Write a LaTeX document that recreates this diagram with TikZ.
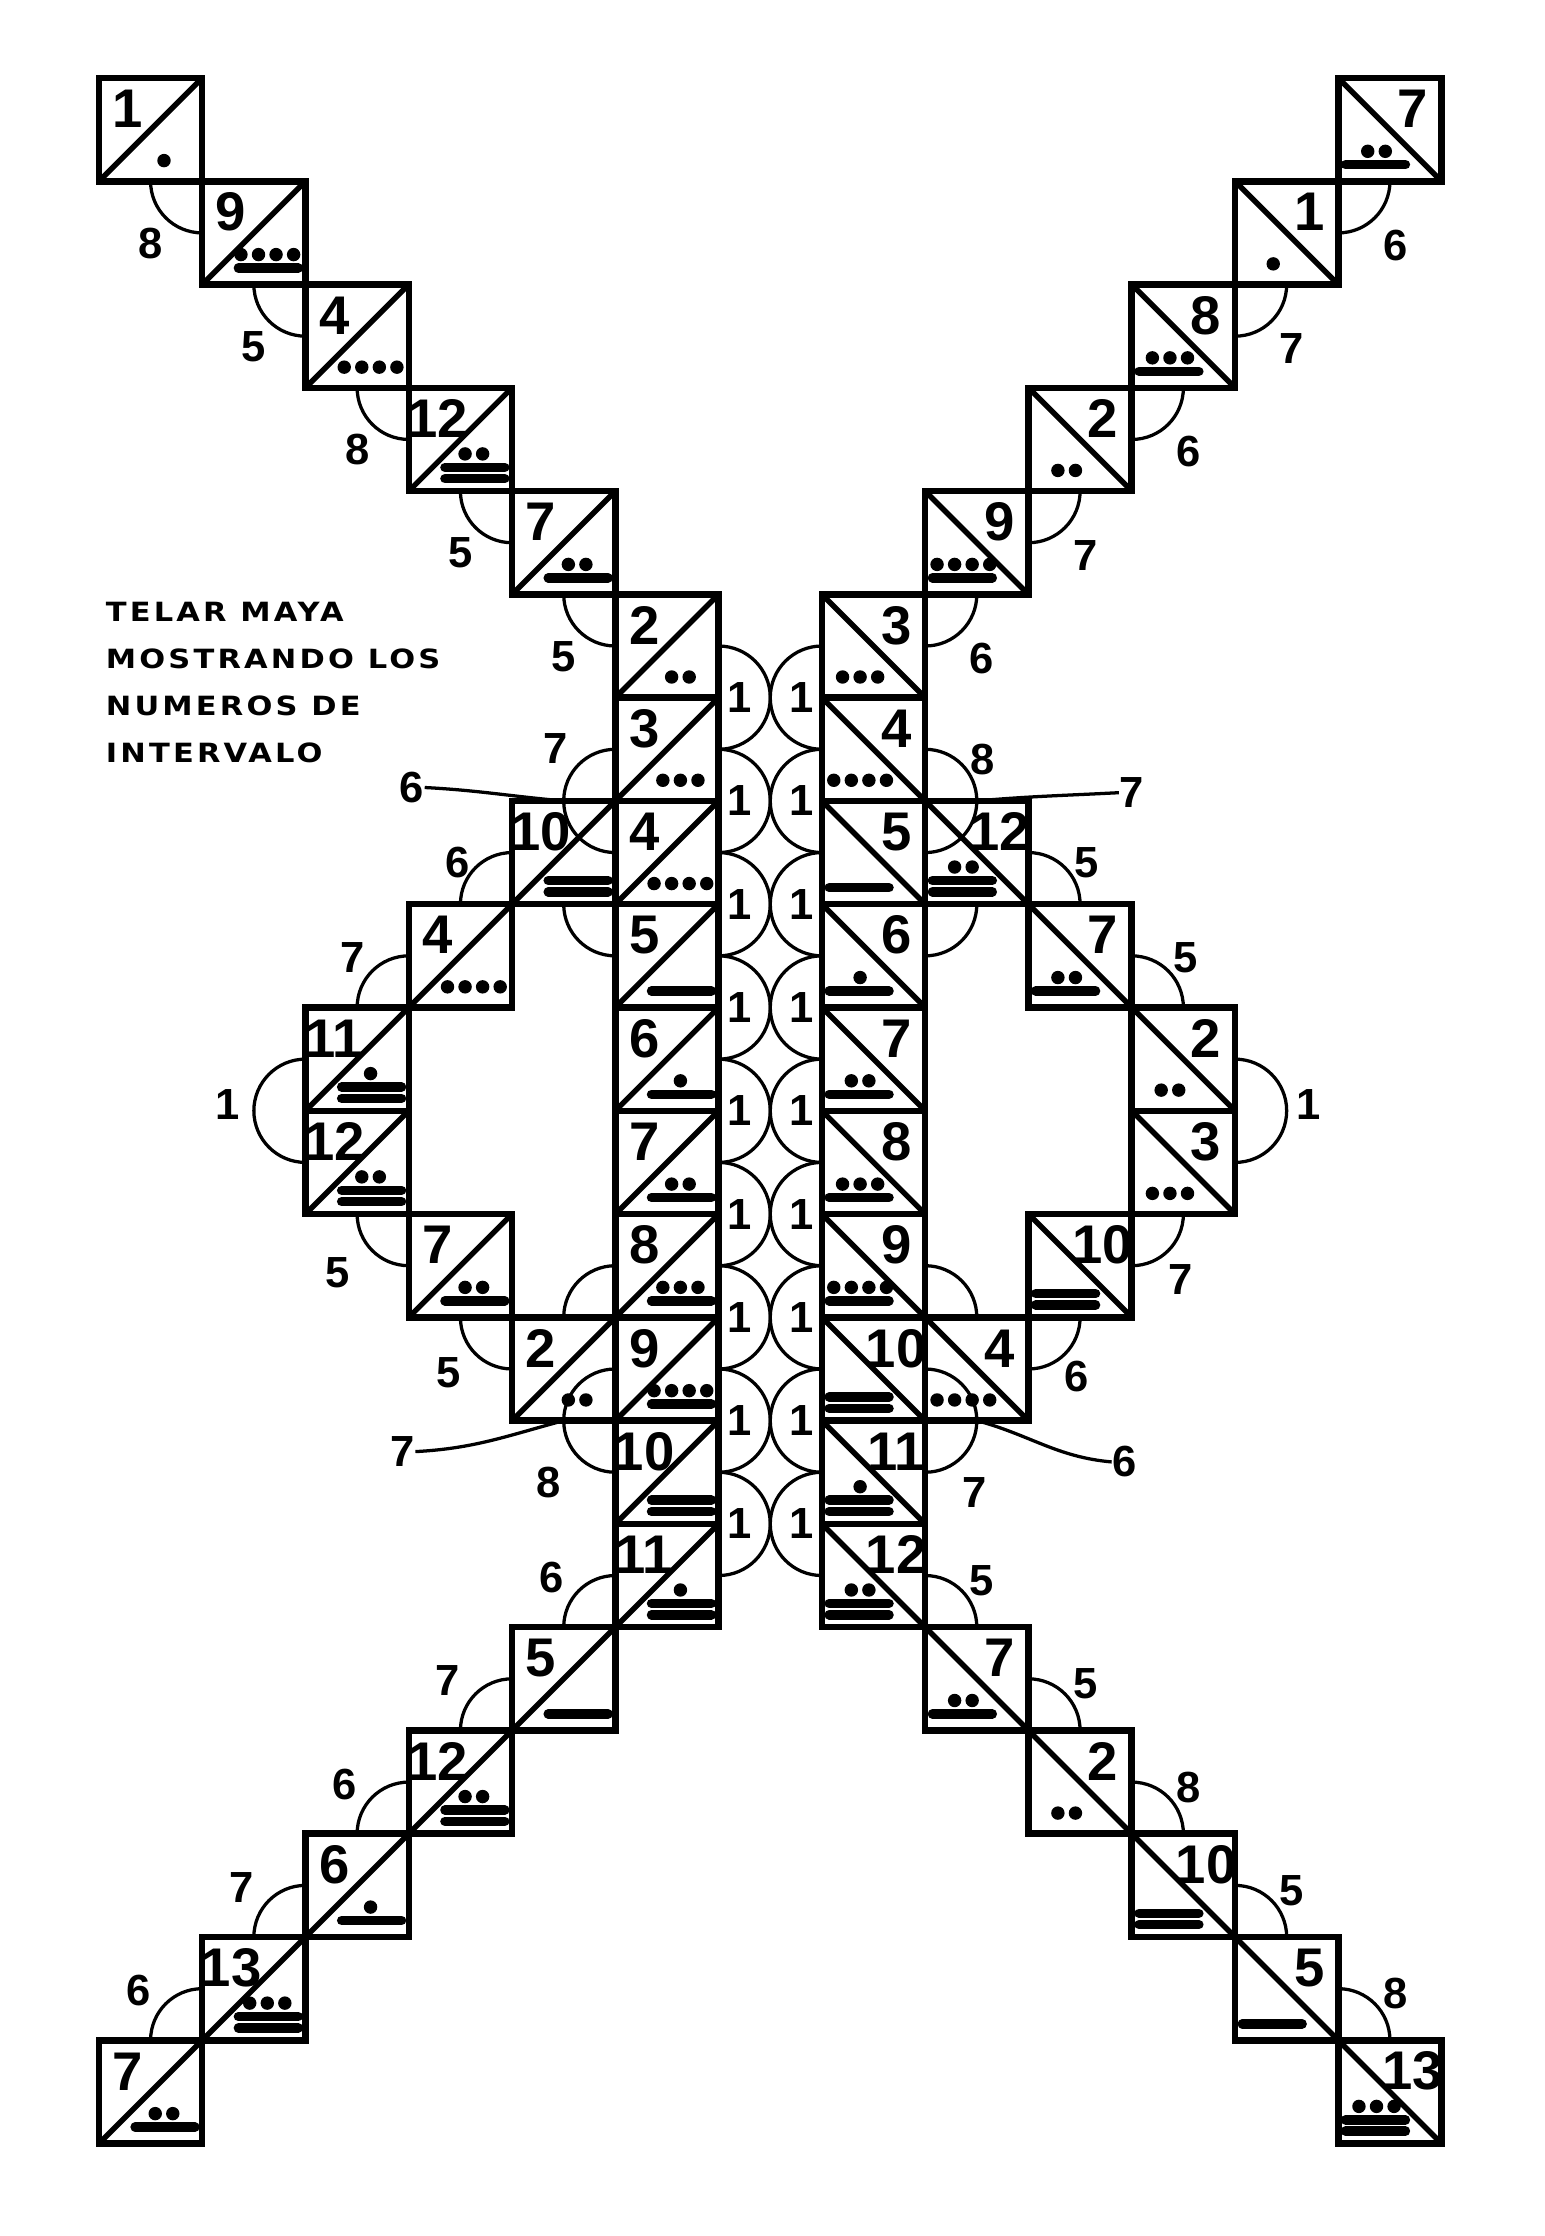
\documentclass[tikz,border=0pt]{standalone}
\usepackage{fontspec}
\setmainfont{Liberation Sans}
\newfontfamily\titlefont[LetterSpace=12,FakeStretch=1.15]{DejaVu Sans}
\usetikzlibrary{calc}
\tikzset{
  cell/.style={draw, line width=1.8pt, minimum size=1cm, inner sep=0pt, outer sep=0pt},
  diag/.style={line width=1.5pt},
  bar/.style={line width=2.6pt, line cap=round},
  dot/.style={fill=black},
  num/.style={font=\bfseries\fontsize{15}{15}\selectfont, inner sep=0pt},
  ivarc/.style={line width=0.9pt},
  ivl/.style={font=\bfseries\fontsize{12}{12}\selectfont, inner sep=0pt},
  leader/.style={line width=0.9pt},
  title/.style={font=\titlefont\bfseries\fontsize{7.3}{12.95}\selectfont,
                align=left, anchor=north west, inner sep=0pt}
}

\begin{document}
\begin{tikzpicture}
\useasboundingbox (-0.958,0.755) rectangle (13.992,-20.895);
% squares: name/column/row/value/direction
\foreach \nm/\qx/\qy/\val/\sg in {
  nw1/0/0/1/1, nw2/1/1/9/1, nw3/2/2/4/1, nw4/3/3/12/1, nw5/4/4/7/1,
  lc1/5/5/2/1, lc2/5/6/3/1, lc3/5/7/4/1, lc4/5/8/5/1, lc5/5/9/6/1,
  lc6/5/10/7/1, lc7/5/11/8/1, lc8/5/12/9/1, lc9/5/13/10/1, lc10/5/14/11/1,
  lb1/4/7/10/1, lb2/3/8/4/1, lb3/2/9/11/1, lb4/2/10/12/1, lb5/3/11/7/1, lb6/4/12/2/1,
  sw1/4/15/5/1, sw2/3/16/12/1, sw3/2/17/6/1, sw4/1/18/13/1, sw5/0/19/7/1,
  ne1/12/0/7/-1, ne2/11/1/1/-1, ne3/10/2/8/-1, ne4/9/3/2/-1, ne5/8/4/9/-1,
  rc1/7/5/3/-1, rc2/7/6/4/-1, rc3/7/7/5/-1, rc4/7/8/6/-1, rc5/7/9/7/-1,
  rc6/7/10/8/-1, rc7/7/11/9/-1, rc8/7/12/10/-1, rc9/7/13/11/-1, rc10/7/14/12/-1,
  rb1/8/7/12/-1, rb2/9/8/7/-1, rb3/10/9/2/-1, rb4/10/10/3/-1, rb5/9/11/10/-1, rb6/8/12/4/-1,
  se1/8/15/7/-1, se2/9/16/2/-1, se3/10/17/10/-1, se4/11/18/5/-1, se5/12/19/13/-1}{
  \node[cell] (\nm) at (\qx+0.5,-\qy-0.5) {};
  \draw[diag] ($(\nm.center)+(-0.5*\sg,-0.5)$) -- ($(\nm.center)+(0.5*\sg,0.5)$);
  \node[num] (\nm-n) at ($(\nm.center)+(-0.22*\sg,0.2)$) {\val};
  \pgfmathtruncatemacro\nb{\val/5}
  \pgfmathtruncatemacro\nd{\val-5*\nb}
  \ifnum\nb>0
    \foreach \kk in {1,...,\nb}{
      \pgfmathsetmacro\by{0.5-0.84-0.04*(\nb-1)+0.11*(\kk-1)}
      \draw[bar] ($(\nm.center)+(-0.15*\sg,\by)$) -- ++(0.58*\sg,0);
    }
    \pgfmathsetmacro\dy{0.5-0.84+0.07*(\nb-1)+0.13}
  \else
    \pgfmathsetmacro\dy{-0.3}
  \fi
  \ifnum\nd>0
    \foreach \jj in {1,...,\nd}{
      \pgfmathsetmacro\dx{(0.13+0.17*(\jj-(\nd+1)/2))*\sg}
      \fill[dot] ($(\nm.center)+(\dx,\dy)$) circle[radius=0.065];
    }
  \fi
}
% arms
\foreach \a/\t in {nw1/8,nw2/5,nw3/8,nw4/5,nw5/5}{
  \draw[ivarc] (\a.south) arc[start angle=180,end angle=270,radius=.5];
  \node[ivl] (\a-i) at ($(\a.south)+(0,-0.6)$) {\t};
}
\foreach \a/\t in {ne1/6,ne2/7,ne3/6,ne4/7,ne5/6}{
  \draw[ivarc] (\a.south) arc[start angle=0,end angle=-90,radius=.5];
  \node[ivl] (\a-i) at ($(\a.south)+(0.05,-0.62)$) {\t};
}
\foreach \a/\t in {sw1/6,sw2/7,sw3/6,sw4/7,sw5/6}{
  \draw[ivarc] (\a.north) arc[start angle=180,end angle=90,radius=.5];
  \node[ivl] (\a-i) at ($(\a.north)+(-0.12,0.48)$) {\t};
}
\foreach \a/\t in {se1/5,se2/5,se3/8,se4/5,se5/8}{
  \draw[ivarc] (\a.north) arc[start angle=0,end angle=90,radius=.5];
  \node[ivl] (\a-i) at ($(\a.north)+(0.05,0.45)$) {\t};
}
% the two columns
\foreach \kk in {1,...,9}{
  \draw[ivarc] (lc\kk.east) arc[start angle=90,end angle=-90,radius=.5];
  \node[ivl] (lc\kk-i) at ($(lc\kk.east)+(0.2,-0.5)$) {1};
  \draw[ivarc] (rc\kk.west) arc[start angle=90,end angle=270,radius=.5];
  \node[ivl] (rc\kk-i) at ($(rc\kk.west)+(-0.2,-0.5)$) {1};
}
% left loop
\draw[ivarc] (lb1.north) arc[start angle=180,end angle=90,radius=.5];
\node[ivl] (lb1-i) at ($(lb1.north)+(-0.08,0.51)$) {7};
\draw[ivarc] (lb1.north) arc[start angle=180,end angle=270,radius=.5];
\node[ivl] (lb1-j) at (3.03,-6.87) {6};
\draw[leader] (lb1-j.east) to[out=-3,in=175] (lb1.north);
\draw[ivarc] (lb1.south) arc[start angle=180,end angle=270,radius=.5];
\draw[ivarc] (lb2.north) arc[start angle=180,end angle=90,radius=.5];
\node[ivl] (lb2-i) at ($(lb2.north)+(-0.03,0.4)$) {6};
\draw[ivarc] (lb3.north) arc[start angle=180,end angle=90,radius=.5];
\node[ivl] (lb3-i) at ($(lb3.north)+(-0.04,0.48)$) {7};
\draw[ivarc] (lb3.west) arc[start angle=90,end angle=270,radius=.5];
\node[ivl] (lb3-j) at ($(lb3.west)+(-0.75,-0.44)$) {1};
\draw[ivarc] (lb4.south) arc[start angle=180,end angle=270,radius=.5];
\node[ivl] (lb4-i) at ($(lb4.south)+(-0.19,-0.57)$) {5};
\draw[ivarc] (lb5.south) arc[start angle=180,end angle=270,radius=.5];
\node[ivl] (lb5-i) at ($(lb5.south)+(-0.11,-0.54)$) {5};
\draw[ivarc] (lb6.north) arc[start angle=180,end angle=90,radius=.5];
\draw[ivarc] (lb6.south) arc[start angle=180,end angle=90,radius=.5];
\node[ivl] (lb6-j) at (2.94,-13.3) {7};
\draw[leader] (lb6-j.east) to[out=3,in=195] (lb6.south);
\draw[ivarc] (lb6.south) arc[start angle=180,end angle=270,radius=.5];
\node[ivl] (lb6-i) at ($(lb6.south)+(-0.15,-0.6)$) {8};
% right loop
\draw[ivarc] (rb1.north) arc[start angle=0,end angle=90,radius=.5];
\node[ivl] (rb1-i) at ($(rb1.north)+(0.06,0.4)$) {8};
\draw[ivarc] (rb1.north) arc[start angle=0,end angle=-90,radius=.5];
\node[ivl] (rb1-j) at (10.0,-6.92) {7};
\draw[leader] (rb1-j.west) to[out=183,in=5] (rb1.north);
\draw[ivarc] (rb1.south) arc[start angle=0,end angle=-90,radius=.5];
\draw[ivarc] (rb2.north) arc[start angle=0,end angle=90,radius=.5];
\node[ivl] (rb2-i) at ($(rb2.north)+(0.06,0.4)$) {5};
\draw[ivarc] (rb3.north) arc[start angle=0,end angle=90,radius=.5];
\node[ivl] (rb3-i) at ($(rb3.north)+(0.02,0.48)$) {5};
\draw[ivarc] (rb3.east) arc[start angle=90,end angle=-90,radius=.5];
\node[ivl] (rb3-j) at ($(rb3.east)+(0.71,-0.44)$) {1};
\draw[ivarc] (rb4.south) arc[start angle=0,end angle=-90,radius=.5];
\node[ivl] (rb4-i) at ($(rb4.south)+(-0.03,-0.63)$) {7};
\draw[ivarc] (rb5.south) arc[start angle=0,end angle=-90,radius=.5];
\node[ivl] (rb5-i) at ($(rb5.south)+(-0.03,-0.57)$) {6};
\draw[ivarc] (rb6.north) arc[start angle=0,end angle=90,radius=.5];
\draw[ivarc] (rb6.south) arc[start angle=0,end angle=90,radius=.5];
\node[ivl] (rb6-j) at (9.93,-13.4) {6};
\draw[leader] (rb6-j.west) to[out=175,in=-15] (rb6.south);
\draw[ivarc] (rb6.south) arc[start angle=0,end angle=-90,radius=.5];
\node[ivl] (rb6-i) at ($(rb6.south)+(-0.02,-0.7)$) {7};
% title
\node[title] (title) at (0.06,-5.07) {TELAR MAYA\\MOSTRANDO LOS\\NUMEROS DE\\INTERVALO};
\end{tikzpicture}
\end{document}
